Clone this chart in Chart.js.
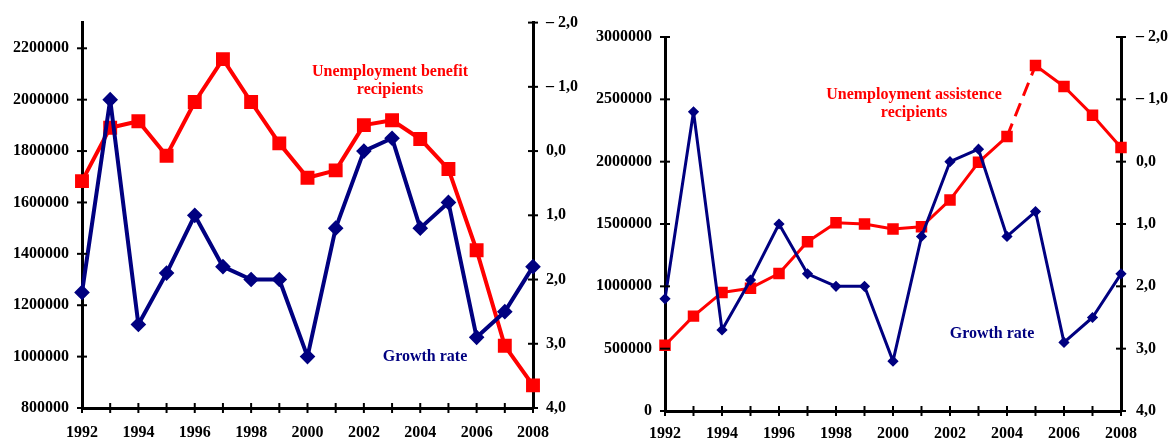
<!DOCTYPE html>
<html><head><meta charset="utf-8">
<script src="https://cdn.jsdelivr.net/npm/chart.js@4/dist/chart.umd.min.js"></script>
<style>
html,body{margin:0;padding:0;background:#fff;width:1168px;height:441px;overflow:hidden;}
.box{position:absolute;top:0;height:441px;}
.note{position:absolute;font:bold 16px "Liberation Serif","Times New Roman",serif;line-height:18px;text-align:center;white-space:nowrap;}
</style></head>
<body>
<div class="box" style="left:0;width:590px;"><canvas id="c1"></canvas></div>
<div class="box" style="left:590px;width:578px;"><canvas id="c2"></canvas></div>
<div class="note" style="left:290px;width:200px;top:62px;color:#ff0000;">Unemployment benefit<br>recipients</div>
<div class="note" style="left:365px;width:120px;top:347px;color:#000080;">Growth rate</div>
<div class="note" style="left:814px;width:200px;top:85px;color:#ff0000;">Unemployment assistence<br>recipients</div>
<div class="note" style="left:932px;width:120px;top:324px;color:#000080;">Growth rate</div>
<script>
const years = ['1992','1993','1994','1995','1996','1997','1998','1999','2000','2001','2002','2003','2004','2005','2006','2007','2008'];
const benefitRecipients = [1683000,1891000,1916000,1782000,1991000,2158000,1991000,1830000,1696000,1725000,1901000,1920000,1847000,1730000,1414000,1042000,888000];
const assistanceRecipients = [528000,761000,951000,985000,1103000,1358000,1510000,1500000,1460000,1478000,1693000,1995000,2201000,2772000,2603000,2373000,2113000];
const growthRate = [2.2,-0.8,2.7,1.9,1.0,1.8,2.0,2.0,3.2,1.2,0.0,-0.2,1.2,0.8,2.9,2.5,1.8];
const leftTicks1 = [800000,1000000,1200000,1400000,1600000,1800000,2000000,2200000];
const leftMax1 = 2300000;
const leftTicks2 = [0,500000,1000000,1500000,2000000,2500000,3000000];
const rightTicks = [-2,-1,0,1,2,3,4];
const dashedFrom = '2004';

Chart.defaults.font = {family:'"Liberation Serif","Times New Roman",serif', size:16, weight:'bold'};
Chart.defaults.color = '#000';

const crossTicks = {
  id:'crossTicks',
  afterDraw(chart){
    const ctx = chart.ctx; ctx.save(); ctx.strokeStyle='#000'; ctx.lineWidth=2;
    Object.values(chart.scales).forEach(s=>{
      s.ticks.forEach((t,i)=>{
        const p = s.getPixelForTick(i);
        ctx.beginPath();
        if (s.isHorizontal()) { const y = s.top; ctx.moveTo(p,y-5); ctx.lineTo(p,y+5); }
        else { const x = s.position==='left' ? s.right : s.left; ctx.moveTo(x-5,p); ctx.lineTo(x+5,p); }
        ctx.stroke();
      });
    });
    ctx.restore();
  }
};

const fmtRight = v => v < 0 ? '\u2013 ' + Math.abs(v).toFixed(1).replace('.',',') : v.toFixed(1).replace('.',',');

function makeChart(id, redData, leftTicks, leftMax, cfg){
  const dashIdx = years.indexOf(dashedFrom);
  return new Chart(document.getElementById(id), {
    type:'line',
    data:{labels:years, datasets:[
      {data:growthRate, yAxisID:'y1', borderColor:'#000080', backgroundColor:'#000080', borderWidth:cfg.bw,
       borderJoinStyle:'round', pointStyle:'rectRot', pointRadius:cfg.br, pointHoverRadius:cfg.br, tension:0},
      {data:redData, yAxisID:'y', borderColor:'#ff0000', backgroundColor:'#ff0000', borderWidth:cfg.rw,
       borderJoinStyle:'round', pointStyle:'rect', pointRadius:cfg.rr, pointHoverRadius:cfg.rr, tension:0,
       segment:{borderDash: c => (cfg.dash && c.p0DataIndex===dashIdx) ? [14,8] : undefined}}
    ]},
    options:{
      responsive:true, maintainAspectRatio:false, animation:false,
      layout:{padding:{top:cfg.top, left:0, right:0, bottom:0}},
      plugins:{legend:{display:false}, tooltip:{enabled:false}},
      scales:{
        x:{type:'category', offset:false,
           grid:{display:true, drawOnChartArea:false, drawTicks:false},
           border:{display:true, color:'#000', width:3},
           ticks:{autoSkip:false, maxRotation:0, padding:cfg.xpad, callback:(v,i)=> i%2===0 ? years[i] : ''},
           afterFit:s=>{s.width = s.width; s.height = cfg.xh;}},
        y:{position:'left', min:leftTicks[0], max:leftMax,
           grid:{display:true, drawOnChartArea:false, drawTicks:false},
           border:{display:true, color:'#000', width:3},
           ticks:{padding:13, callback:v=>String(v)},
           afterBuildTicks:s=>{s.ticks = leftTicks.map(v=>({value:v}));},
           afterFit:s=>{s.width = cfg.lw;}},
        y1:{position:'right', min:rightTicks[0], max:rightTicks[rightTicks.length-1], reverse:true,
           grid:{display:true, drawOnChartArea:false, drawTicks:false},
           border:{display:true, color:'#000', width:3},
           ticks:{padding:cfg.rpad, callback:v=>fmtRight(v)},
           afterBuildTicks:s=>{s.ticks = rightTicks.map(v=>({value:v}));},
           afterFit:s=>{s.width = cfg.rwid;}}
      }
    },
    plugins:[crossTicks]
  });
}

makeChart('c1', benefitRecipients, leftTicks1, leftMax1, {bw:4, br:5, rw:4, rr:7, top:19, xh:33, xpad:15, lw:82, rwid:57, rpad:13, dash:false});
makeChart('c2', assistanceRecipients, leftTicks2, leftTicks2[leftTicks2.length-1], {bw:3, br:3.5, rw:3, rr:6, top:37, xh:30, xpad:13, lw:75, rwid:47, rpad:15, dash:true});
</script>
</body></html>
